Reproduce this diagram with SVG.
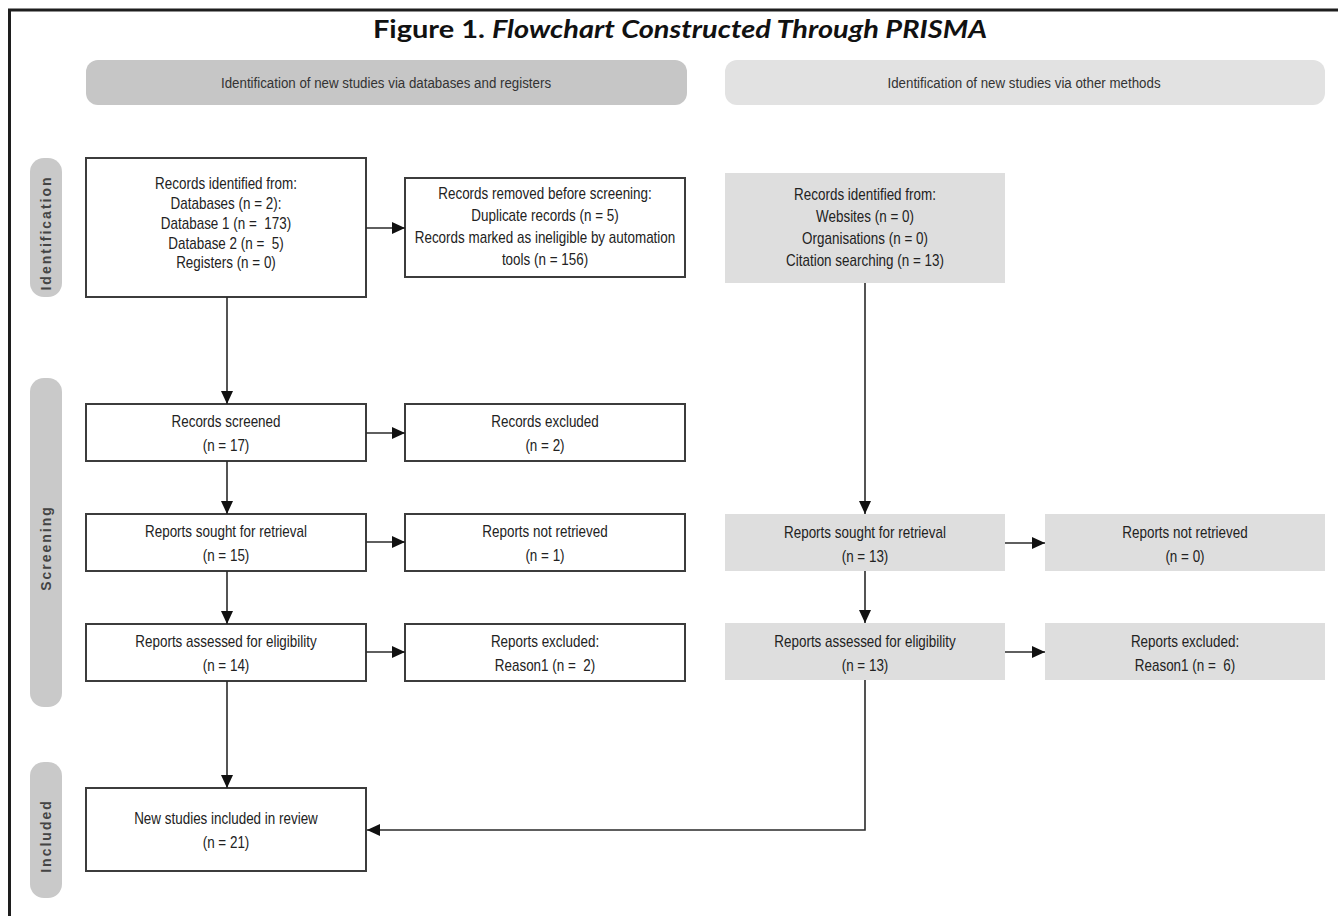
<svg xmlns="http://www.w3.org/2000/svg" width="1338" height="916" viewBox="0 0 1338 916">
<style>
.frame{stroke:#1e1e1e;stroke-width:3;fill:none}
.hdrL{fill:#c6c6c6}
.hdrR{fill:#e2e2e2}
.pill{fill:#c9c9c9}
.box{fill:#ffffff;stroke:#3c3c3c;stroke-width:2}
.gbox{fill:#dedede;stroke:none}
.t{font-family:"Liberation Sans",Arial,sans-serif;font-size:16px;fill:#222;text-anchor:middle}
.h{font-family:"Liberation Sans",Arial,sans-serif;font-size:15.5px;fill:#333;text-anchor:middle}
.side{font-family:"Liberation Sans",Arial,sans-serif;font-size:14px;font-weight:bold;fill:#444;text-anchor:middle;letter-spacing:2px}
.title{font-family:Lato,"Open Sans","Liberation Sans",sans-serif;font-size:24px;font-weight:bold;fill:#111;text-anchor:middle}
.ln{stroke:#2a2a2a;stroke-width:1.6;fill:none}
</style>
<defs>
<marker id="ah" markerUnits="userSpaceOnUse" markerWidth="13" markerHeight="12" refX="13" refY="6" orient="auto">
<path d="M0,0 L13,6 L0,12 z" fill="#111"/>
</marker>
</defs>
<rect width="1338" height="916" fill="#ffffff"/>
<path class="frame" d="M9.5,916 L9.5,10 L1338,10"/>
<text class="title" x="680" y="38" textLength="614" lengthAdjust="spacingAndGlyphs">Figure 1. <tspan font-style="italic">Flowchart Constructed Through PRISMA</tspan></text>

<g id="header-databases">
<rect class="hdrL" x="86" y="60" width="601" height="45" rx="12"/>
<text class="h" transform="translate(386,88) scale(0.86,1)" x="0" y="0">Identification of new studies via databases and registers</text>
</g>
<g id="header-other">
<rect class="hdrR" x="725" y="60" width="600" height="45" rx="12"/>
<text class="h" transform="translate(1024,88) scale(0.86,1)" x="0" y="0">Identification of new studies via other methods</text>
</g>

<g id="stage-identification">
<rect class="pill" x="30" y="158" width="32" height="139" rx="14"/>
<text class="side" transform="translate(51,233) rotate(-90)">Identification</text>
</g>
<g id="stage-screening">
<rect class="pill" x="30" y="378" width="32" height="329" rx="14"/>
<text class="side" transform="translate(51,548) rotate(-90)">Screening</text>
</g>
<g id="stage-included">
<rect class="pill" x="30" y="762" width="32" height="136" rx="14"/>
<text class="side" transform="translate(51,836) rotate(-90)">Included</text>
</g>

<g id="records-identified-db">
<rect class="box" x="86" y="158" width="280" height="139"/>
<text class="t" transform="translate(226,0) scale(0.84,1)" xml:space="preserve"><tspan x="0" y="189">Records identified from:</tspan><tspan x="0" y="209">Databases (n = 2):</tspan><tspan x="0" y="229">Database 1 (n =  173)</tspan><tspan x="0" y="249">Database 2 (n =  5)</tspan><tspan x="0" y="268">Registers (n = 0)</tspan></text>
</g>
<g id="records-removed">
<rect class="box" x="405" y="178" width="280" height="99"/>
<text class="t" transform="translate(545,0) scale(0.84,1)"><tspan x="0" y="199">Records removed before screening:</tspan><tspan x="0" y="221">Duplicate records (n = 5)</tspan><tspan x="0" y="243">Records marked as ineligible by automation</tspan><tspan x="0" y="265">tools (n = 156)</tspan></text>
</g>
<g id="records-identified-other">
<rect class="gbox" x="725" y="173" width="280" height="110"/>
<text class="t" transform="translate(865,0) scale(0.84,1)"><tspan x="0" y="200">Records identified from:</tspan><tspan x="0" y="222">Websites (n = 0)</tspan><tspan x="0" y="244">Organisations (n = 0)</tspan><tspan x="0" y="266">Citation searching (n = 13)</tspan></text>
</g>

<g id="records-screened">
<rect class="box" x="86" y="404" width="280" height="57"/>
<text class="t" transform="translate(226,0) scale(0.84,1)"><tspan x="0" y="427">Records screened</tspan><tspan x="0" y="451">(n = 17)</tspan></text>
</g>
<g id="records-excluded">
<rect class="box" x="405" y="404" width="280" height="57"/>
<text class="t" transform="translate(545,0) scale(0.84,1)"><tspan x="0" y="427">Records excluded</tspan><tspan x="0" y="451">(n = 2)</tspan></text>
</g>

<g id="reports-sought-db">
<rect class="box" x="86" y="514" width="280" height="57"/>
<text class="t" transform="translate(226,0) scale(0.84,1)"><tspan x="0" y="537">Reports sought for retrieval</tspan><tspan x="0" y="561">(n = 15)</tspan></text>
</g>
<g id="reports-not-retrieved-db">
<rect class="box" x="405" y="514" width="280" height="57"/>
<text class="t" transform="translate(545,0) scale(0.84,1)"><tspan x="0" y="537">Reports not retrieved</tspan><tspan x="0" y="561">(n = 1)</tspan></text>
</g>
<g id="reports-sought-other">
<rect class="gbox" x="725" y="514" width="280" height="57"/>
<text class="t" transform="translate(865,0) scale(0.84,1)"><tspan x="0" y="538">Reports sought for retrieval</tspan><tspan x="0" y="562">(n = 13)</tspan></text>
</g>
<g id="reports-not-retrieved-other">
<rect class="gbox" x="1045" y="514" width="280" height="57"/>
<text class="t" transform="translate(1185,0) scale(0.84,1)"><tspan x="0" y="538">Reports not retrieved</tspan><tspan x="0" y="562">(n = 0)</tspan></text>
</g>

<g id="reports-assessed-db">
<rect class="box" x="86" y="624" width="280" height="57"/>
<text class="t" transform="translate(226,0) scale(0.84,1)"><tspan x="0" y="647">Reports assessed for eligibility</tspan><tspan x="0" y="671">(n = 14)</tspan></text>
</g>
<g id="reports-excluded-db">
<rect class="box" x="405" y="624" width="280" height="57"/>
<text class="t" transform="translate(545,0) scale(0.84,1)" xml:space="preserve"><tspan x="0" y="647">Reports excluded:</tspan><tspan x="0" y="671">Reason1 (n =  2)</tspan></text>
</g>
<g id="reports-assessed-other">
<rect class="gbox" x="725" y="623" width="280" height="57"/>
<text class="t" transform="translate(865,0) scale(0.84,1)"><tspan x="0" y="647">Reports assessed for eligibility</tspan><tspan x="0" y="671">(n = 13)</tspan></text>
</g>
<g id="reports-excluded-other">
<rect class="gbox" x="1045" y="623" width="280" height="57"/>
<text class="t" transform="translate(1185,0) scale(0.84,1)" xml:space="preserve"><tspan x="0" y="647">Reports excluded:</tspan><tspan x="0" y="671">Reason1 (n =  6)</tspan></text>
</g>

<g id="studies-included">
<rect class="box" x="86" y="788" width="280" height="83"/>
<text class="t" transform="translate(226,0) scale(0.84,1)"><tspan x="0" y="824">New studies included in review</tspan><tspan x="0" y="848">(n = 21)</tspan></text>
</g>

<g id="connectors">
<line class="ln" x1="366" y1="228" x2="405" y2="228" marker-end="url(#ah)"/>
<line class="ln" x1="227" y1="297" x2="227" y2="404" marker-end="url(#ah)"/>
<line class="ln" x1="366" y1="433" x2="405" y2="433" marker-end="url(#ah)"/>
<line class="ln" x1="227" y1="461" x2="227" y2="514" marker-end="url(#ah)"/>
<line class="ln" x1="366" y1="542" x2="405" y2="542" marker-end="url(#ah)"/>
<line class="ln" x1="227" y1="571" x2="227" y2="624" marker-end="url(#ah)"/>
<line class="ln" x1="366" y1="652" x2="405" y2="652" marker-end="url(#ah)"/>
<line class="ln" x1="227" y1="681" x2="227" y2="788" marker-end="url(#ah)"/>
<line class="ln" x1="865" y1="283" x2="865" y2="514" marker-end="url(#ah)"/>
<line class="ln" x1="1005" y1="543" x2="1045" y2="543" marker-end="url(#ah)"/>
<line class="ln" x1="865" y1="571" x2="865" y2="623" marker-end="url(#ah)"/>
<line class="ln" x1="1005" y1="652" x2="1045" y2="652" marker-end="url(#ah)"/>
<polyline class="ln" points="865,680 865,830 367,830" marker-end="url(#ah)"/>
</g>
</svg>
